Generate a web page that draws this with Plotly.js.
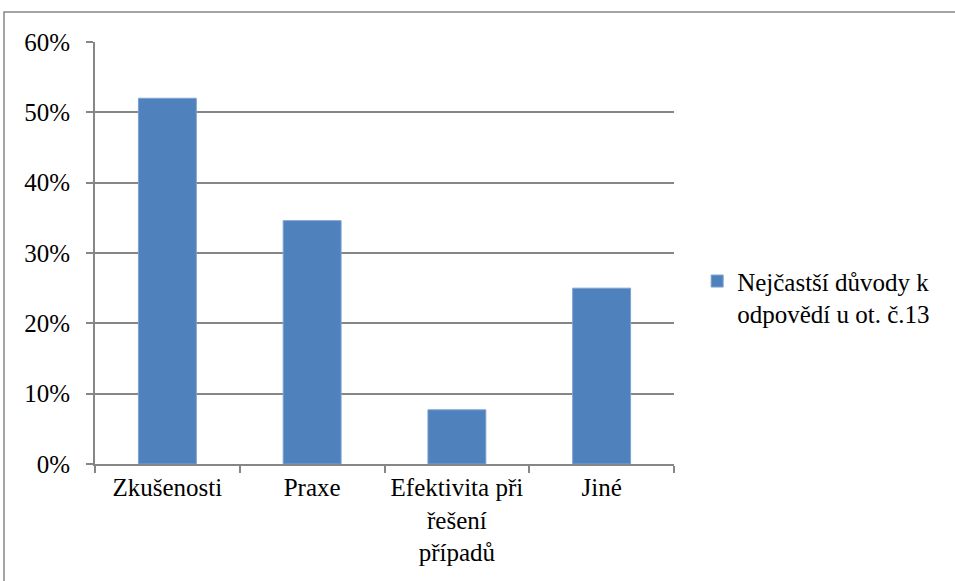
<!DOCTYPE html>
<html>
<head>
<meta charset="utf-8">
<script src="https://cdn.plot.ly/plotly-3.0.1.min.js"></script>
<style>html,body{margin:0;padding:0;background:#fff;}#chart{width:955px;height:581px;}</style>
</head>
<body>
<div id="chart"></div>
<script>
const categories = ["Zkušenosti", "Praxe", "Efektivita při<br>řešení<br>případů", "Jiné"];
const values = [0.52, 0.346, 0.077, 0.25];
const seriesName = "Nejčastší důvody k<br>odpovědí u ot. č.13";
const yTickVals = [0, 0.1, 0.2, 0.3, 0.4, 0.5, 0.6];
const yTickText = ["0%", "10%", "20%", "30%", "40%", "50%", "60%"];

const FAM = "Liberation Serif";
const mkFont = () => ({family: FAM, size: 25, color: "#000"});
const W = 955, H = 581;
const m = {l: 95, r: 281, t: 42, b: 117};
const pw = W - m.l - m.r, ph = H - m.t - m.b;
const px = x => (x - m.l) / pw;
const py = y => (H - m.b - y) / ph;

const trace = {
  type: "bar",
  x: categories,
  y: values,
  name: seriesName,
  marker: {color: "#4F81BD", line: {color: "#7DA2D0", width: 1}},
  showlegend: true,
  hoverinfo: "none"
};

const layout = {
  width: W, height: H,
  margin: m,
  paper_bgcolor: "#fff",
  plot_bgcolor: "#fff",
  font: mkFont(),
  bargap: 0.6,
  showlegend: true,
  xaxis: {
    type: "category",
    showline: true, linecolor: "#868686", linewidth: 2,
    ticks: "outside", tickson: "boundaries", ticklen: 7, tickcolor: "#868686", tickwidth: 2,
    showgrid: false, zeroline: false,
    tickfont: mkFont()
  },
  yaxis: {
    range: [0, 0.6],
    tickvals: yTickVals, ticktext: yTickText,
    showline: true, linecolor: "#868686", linewidth: 2,
    ticks: "outside", ticklen: 7, tickcolor: "#868686", tickwidth: 2,
    showgrid: true, gridcolor: "#868686", gridwidth: 2,
    zeroline: false,
    ticklabelstandoff: 11,
    tickfont: mkFont()
  },
  legend: {
    x: 1.04, xanchor: "left",
    y: 0.395, yanchor: "middle",
    valign: "top",
    font: mkFont(),
    bgcolor: "rgba(0,0,0,0)"
  },
  shapes: [{
    type: "rect", xref: "paper", yref: "paper",
    x0: px(4), x1: px(990), y0: py(620), y1: py(12),
    line: {color: "#868686", width: 1.5}, fillcolor: "rgba(0,0,0,0)", layer: "below"
  }]
};

Plotly.newPlot("chart", [trace], layout, {displayModeBar: false, staticPlot: true});
</script>
</body>
</html>
